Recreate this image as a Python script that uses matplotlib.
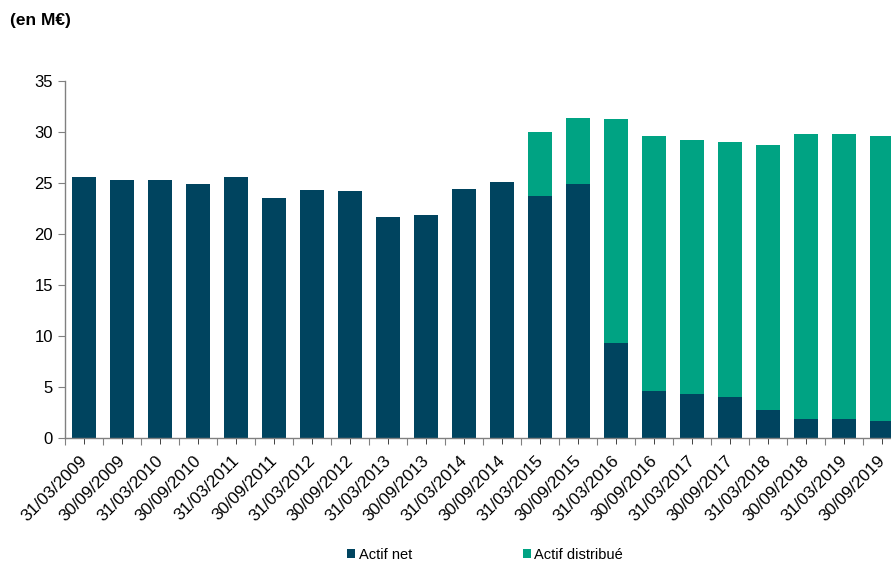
import numpy as np
import matplotlib
matplotlib.use("Agg")
import matplotlib.pyplot as plt
import matplotlib.transforms as mtransforms
from matplotlib.ticker import MultipleLocator, FixedLocator

plt.rcParams['font.family'] = ['Liberation Sans', 'DejaVu Sans']

## Data ##
dates = ["31/03/2009", "30/09/2009", "31/03/2010", "30/09/2010", "31/03/2011",
         "30/09/2011", "31/03/2012", "30/09/2012", "31/03/2013", "30/09/2013",
         "31/03/2014", "30/09/2014", "31/03/2015", "30/09/2015", "31/03/2016",
         "30/09/2016", "31/03/2017", "30/09/2017", "31/03/2018", "30/09/2018",
         "31/03/2019", "30/09/2019"]
actif_net = [25.6, 25.3, 25.3, 24.9, 25.6, 23.5, 24.3, 24.2, 21.6, 21.8,
             24.4, 25.1, 23.7, 24.9, 9.3, 4.6, 4.3, 4.0, 2.7, 1.8, 1.8, 1.6]
total = [25.6, 25.3, 25.3, 24.9, 25.6, 23.5, 24.3, 24.2, 21.6, 21.8,
         24.4, 25.1, 30.0, 31.3, 31.2, 29.6, 29.2, 28.95, 28.7, 29.8, 29.8, 29.6]
actif_distribue = [t - n for t, n in zip(total, actif_net)]

navy = '#00445f'
green = '#00a383'
axis_grey = '#808080'

fig = plt.figure(figsize=(8.91, 5.65), dpi=100)
# axis runs past the right edge of the picture, as in the reference
ax = fig.add_axes([65.3 / 891, (565 - 437.7) / 565, 836 / 891, 357 / 565])

x = np.arange(len(dates))
ax.bar(x, actif_net, width=0.63, color=navy, label='Actif net')
ax.bar(x, actif_distribue, width=0.63, bottom=actif_net, color=green, label='Actif distribué')

ax.set_xlim(-0.5, len(dates) - 0.5)
ax.set_ylim(0, 35)
ax.yaxis.set_major_locator(MultipleLocator(5))

ax.xaxis.set_major_locator(FixedLocator(x - 0.5))
ax.set_xticklabels([])
ax.set_xticks(x, minor=True)
ax.set_xticklabels(dates, minor=True, rotation=45, ha='right', rotation_mode='anchor')

for side in ['top', 'right']:
    ax.spines[side].set_visible(False)
for side in ['left', 'bottom']:
    ax.spines[side].set_color(axis_grey)
    ax.spines[side].set_linewidth(1)

ax.tick_params(axis='y', which='major', length=5, color=axis_grey, labelsize=12, pad=4)
ax.tick_params(axis='x', which='major', length=5, color=axis_grey)
ax.tick_params(axis='x', which='minor', length=4, color='#222222', labelsize=12.3, pad=7)

# nudge the rotated labels a little to the left so the last one stays in the picture
# (done after tick_params, which would reset the label transforms)
shift = mtransforms.ScaledTranslation(-5 / 100, 0, fig.dpi_scale_trans)
for lbl in ax.get_xticklabels(minor=True):
    lbl.set_transform(lbl.get_transform() + shift)

fig.text(10 / 891, 1 - 20 / 565, '(en M€)', fontsize=12.5, fontweight='bold', va='center', ha='left')

handles, labels = ax.get_legend_handles_labels()
fig.legend(handles, labels, loc='center', bbox_to_anchor=(485 / 891, 1 - 555 / 565), ncol=2,
           frameon=False, fontsize=10.5, handlelength=0.55, handleheight=0.55, handletextpad=0.25,
           columnspacing=7.6)

plt.savefig('out.png', dpi=100)
plt.close('all')
